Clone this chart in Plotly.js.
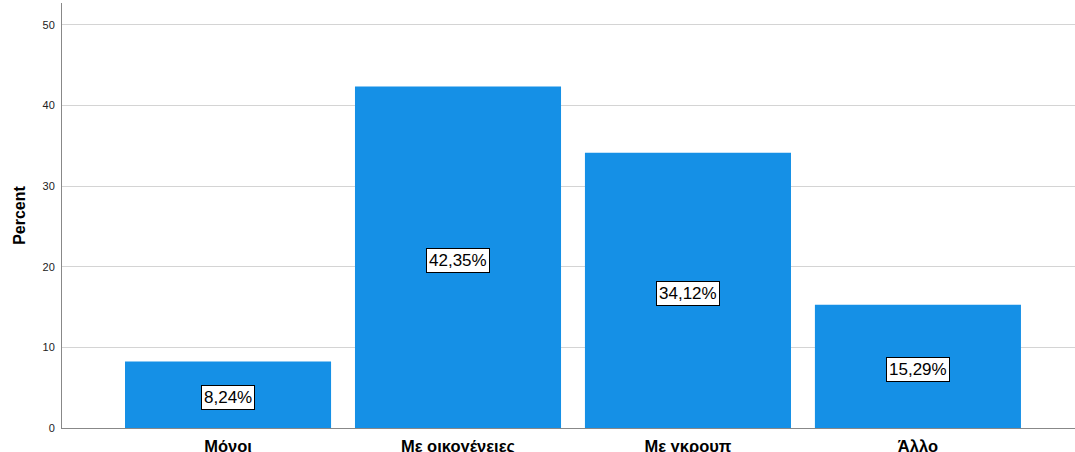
<!DOCTYPE html>
<html><head><meta charset="utf-8">
<script src="https://cdn.plot.ly/plotly-3.0.1.min.js"></script>
<style>html,body{margin:0;padding:0;background:#fff}#chart{width:1075px;height:452px}</style>
</head><body><div id="chart"></div>
<script>
const categories = ["Μόνοι", "Με οικογένειες", "Με γκρουπ", "Άλλο"];
const percents = [8.24, 42.35, 34.12, 15.29];
const yTicks = [0, 10, 20, 30, 40, 50];

const fmt = v => v.toFixed(2).replace('.', ',') + '%';

const trace = {
  type: 'bar',
  x: categories,
  y: percents,
  marker: {color: '#1590e6', line: {width: 0}},
  hoverinfo: 'none'
};

const annotations = categories.map((c, i) => ({
  x: c, y: percents[i] / 2, xref: 'x', yref: 'y', yshift: -3,
  text: fmt(percents[i]), showarrow: false,
  font: {family: 'Liberation Sans, Arial, sans-serif', size: 17, color: '#000'},
  bgcolor: '#ffffff', bordercolor: '#000000', borderwidth: 1, borderpad: 2
}));

const layout = {
  width: 1075, height: 452,
  margin: {l: 62, r: 0, t: 3, b: 24},
  paper_bgcolor: '#fff', plot_bgcolor: '#fff',
  showlegend: false,
  bargap: 0.104,
  xaxis: {
    type: 'category',
    range: [-0.722, 3.683],
    showgrid: false, zeroline: false,
    showline: true, linecolor: '#888', linewidth: 1,
    ticks: 'outside', ticklen: 3, tickcolor: 'rgba(0,0,0,0)',
    tickfont: {family: 'Liberation Sans, Arial, sans-serif', size: 16.5, color: '#000', weight: 'bold'}
  },
  yaxis: {
    range: [0, 52.7],
    tickvals: yTicks,
    ticktext: yTicks.map(String),
    showgrid: true, gridcolor: '#d4d4d4', gridwidth: 1,
    zeroline: false,
    showline: true, linecolor: '#888', linewidth: 1,
    ticks: 'outside', ticklen: 4, tickcolor: 'rgba(0,0,0,0)',
    tickfont: {family: 'Liberation Sans, Arial, sans-serif', size: 11, color: '#222'},
    title: {text: 'Percent', standoff: 12, font: {family: 'Liberation Sans, Arial, sans-serif', size: 16, color: '#000', weight: 'bold'}}
  },
  annotations: annotations
};

Plotly.newPlot('chart', [trace], layout, {staticPlot: true, displayModeBar: false});
</script>
</body></html>
